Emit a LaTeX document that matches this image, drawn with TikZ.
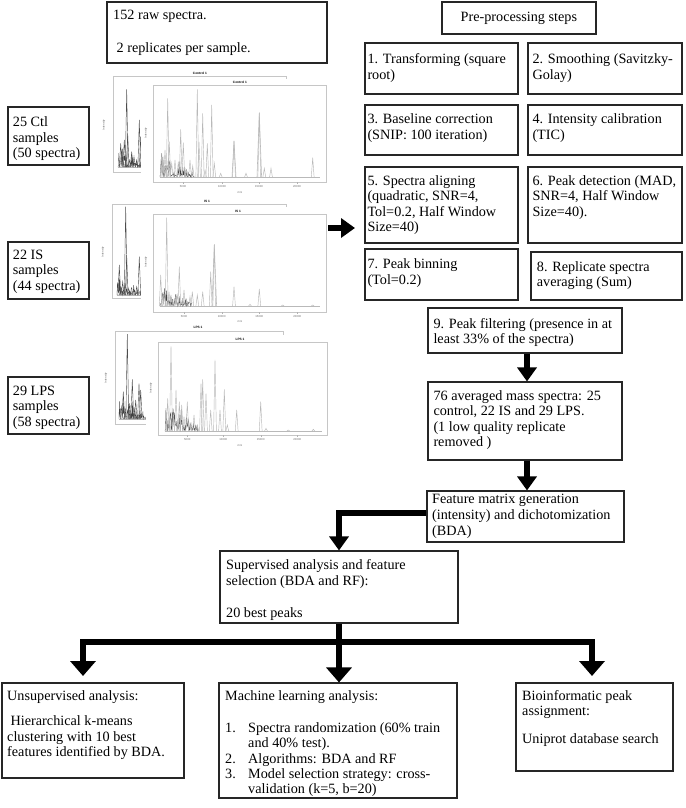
\documentclass[tikz,border=0pt]{standalone}
\usepackage{fontspec}
\setmainfont{Liberation Serif}
\newfontfamily\plotfont{Liberation Sans}
\usetikzlibrary{arrows.meta}
\newcommand\pk[3]{\foreach \px/\py in {#3}{\draw[#2] ({\px-1.4},#1) -- (\px,\py) -- ({\px+1.4},#1);}}
\newcommand\clut[4]{\draw[black!75,line width=0.3pt] (#1,#3) \foreach \i in {1,...,70}{ -- ({#1+(#2-#1)*\i/70},{#3-rnd*rnd*#4*(1.15-\i/80)})};}
\begin{document}
\begin{tikzpicture}[x=1pt,y=-1pt,
  box/.style={draw=black!85,line width=1.1pt,inner sep=0pt},
  tx/.style={anchor=north west,inner sep=0pt,yshift=10.85pt,align=left,font=\fontsize{14.2}{15.5}\selectfont,execute at begin node=\strut},
  flow/.style={line width=6.5pt,draw=black},
  tipA/.style={-{Triangle[width=19pt,length=14pt]}},
  tipB/.style={-{Triangle[width=25pt,length=15pt]}},
  frm/.style={draw=gray!45,line width=0.45pt},
  spk/.style={gray!55,line width=0.45pt},
  dk/.style={black!70,line width=0.4pt},
  ttl/.style={font=\plotfont\bfseries\fontsize{3.2}{3.5}\selectfont,inner sep=0pt},
  ax/.style={font=\plotfont\fontsize{2.8}{3}\selectfont,text=gray!80!black,inner sep=0pt}
]
\useasboundingbox[fill=white] (0,0) rectangle (685,808);
\pgfmathsetseed{7}

% ---------------- boxes ----------------
\node[box,minimum width=220pt,minimum height=61pt] (top) at (217,32.5) {};
\node[tx] (ttop) at (113,21) {152 raw spectra.\\[17pt]\hspace{3.5pt}2 replicates per sample.};

\node[box,minimum width=154pt,minimum height=32pt] (pre) at (519,18) {};
\node[tx] (tpre) at (460.5,21) {Pre-processing steps};

\node[box,minimum width=153pt,minimum height=51pt] (b1) at (441.5,68.5) {};
\node[tx] (tb1) at (367.3,64.5) {1. Transforming (square\\root)};
\node[box,minimum width=154pt,minimum height=51pt] (b2) at (605,68.5) {};
\node[tx] (tb2) at (532.3,64.5) {2. Smoothing (Savitzky-\\Golay)};

\node[box,minimum width=153pt,minimum height=50pt] (b3) at (441.5,130) {};
\node[tx] (tb3) at (367.3,124.5) {3. Baseline correction\\(SNIP: 100 iteration)};
\node[box,minimum width=154pt,minimum height=50pt] (b4) at (605,130) {};
\node[tx] (tb4) at (532.3,124.5) {4. Intensity calibration\\(TIC)};

\node[box,minimum width=153pt,minimum height=76pt] (b5) at (441.5,205) {};
\node[tx] (tb5) at (367.3,186) {5. Spectra aligning\\(quadratic, SNR=4,\\Tol=0.2, Half Window\\Size=40)};
\node[box,minimum width=154pt,minimum height=76pt] (b6) at (605,205) {};
\node[tx] (tb6) at (532.3,186) {6. Peak detection (MAD,\\SNR=4, Half Window\\Size=40).};

\node[box,minimum width=153pt,minimum height=51pt] (b7) at (441.5,274.5) {};
\node[tx] (tb7) at (367.3,269.5) {7. Peak binning\\(Tol=0.2)};
\node[box,minimum width=151pt,minimum height=48pt] (b8) at (606.5,276) {};
\node[tx] (tb8) at (536.7,272) {8. Replicate spectra\\averaging (Sum)};

\node[box,minimum width=194pt,minimum height=45pt] (b9) at (525,330.5) {};
\node[tx] (tb9) at (433.3,328.7) {9. Peak filtering (presence in at\\least 33\% of the spectra)};

\node[box,minimum width=194pt,minimum height=78pt] (b76) at (525,421) {};
\node[tx] (tb76) at (433.3,401) {76 averaged mass spectra: 25\\control, 22 IS and 29 LPS.\\(1 low quality replicate\\removed )};

\node[tx,font=\fontsize{14.2}{16}\selectfont] (tfeat) at (432,505) {Feature matrix generation\\(intensity) and dichotomization\\(BDA)};
\node[box,minimum width=197pt,minimum height=51pt] (feat) at (525.5,516.5) {};

\node[box,minimum width=238pt,minimum height=72pt] (sup) at (339,587) {};
\node[tx,font=\fontsize{14.2}{16}\selectfont] (tsup) at (226,570) {Supervised analysis and feature\\selection (BDA and RF):\\[16pt]20 best peaks};

\node[box,minimum width=182pt,minimum height=95pt] (uns) at (93,730.5) {};
\node[tx] (tuns) at (7,701) {Unsupervised analysis:\\[10pt]\hspace{3.5pt}Hierarchical k-means\\clustering with 10 best\\features identified by BDA.};

\node[box,minimum width=238pt,minimum height=115pt] (ml) at (338,740.5) {};
\node[tx,font=\fontsize{14.2}{15.25}\selectfont] (tml) at (225,701) {Machine learning analysis:\\[17.25pt]\makebox[23pt][l]{1.}Spectra randomization (60\% train\\\hspace{23pt}and 40\% test).\\\makebox[23pt][l]{2.}Algorithms: BDA and RF\\\makebox[23pt][l]{3.}Model selection strategy: cross-\\\hspace{23pt}validation (k=5, b=20)};

\node[box,minimum width=157pt,minimum height=88pt] (bio) at (594.5,727) {};
\node[tx] (tbio) at (522,701) {Bioinformatic peak\\assignment:\\[12pt]Uniprot database search};

\node[box,minimum width=81pt,minimum height=58pt] (ctl) at (48.5,136) {};
\node[tx,font=\fontsize{14.2}{15.2}\selectfont] (tctl) at (12.7,127.7) {25 Ctl\\samples\\(50 spectra)};
\node[box,minimum width=81pt,minimum height=57pt] (is) at (48.5,270.5) {};
\node[tx,font=\fontsize{14.2}{15.2}\selectfont] (tis) at (12.7,261) {22 IS\\samples\\(44 spectra)};
\node[box,minimum width=81pt,minimum height=57pt] (lps) at (48.5,405.5) {};
\node[tx,font=\fontsize{14.2}{15.2}\selectfont] (tlps) at (12.7,397) {29 LPS\\samples\\(58 spectra)};

% ---------------- spectra: Control ----------------
\draw[frm] (113,76) rectangle (286,172);
\node[ttl] (cbt) at (200,73) {Control 1};
\node[ax,rotate=90] (cby) at (104,125) {Intensity};
\draw[spk] (118,167) -- (146,167);
\clut{118}{146}{167}{20}
\pk{167}{dk}{120.7/143.3,122.3/156.7,124.3/140,126/155,126.7/89.3,127.7/133.3,129.3/160,131.7/151.7,134/156.7,136.7/160,139.3/120,140.7/136.7}
\fill[white] (141,79) rectangle (333,199);
\draw[frm] (153,85) rectangle (326,182);
\node[ttl] (cft) at (240,82) {Control 1};
\node[ax,rotate=90] (cfy) at (146,133) {Intensity};
\node[ax] (cfx) at (240,192) {m/z};
\foreach \tx/\tl in {183/5000,222/10000,259/15000,297/20000}{\draw[gray!60,line width=0.3pt] (\tx,182) -- (\tx,184); \node[ax] (cx\tl) at (\tx,187) {\tl};}
\draw[spk] (160,177) -- (320,177);
\clut{160}{194}{177}{28}
\pk{177}{spk}{161.7/153.3,163.3/160,165/150,166.3/166.7,167.7/98.3,169.3/141.7,171.7/163.3,175/160,178.3/161.7,180.7/129.3,183.3/142.7,186.7/170,190/160,192.7/166,197.3/89.3,199/141.7,202.7/113.3,205/170,207.3/143.3,211.7/105,214.3/163.3,220.7/173.3,234/141,246/173.3,259.3/112.7,264.3/168.3,271/168.3,312.7/157.7}
\draw[spk,line width=0.55pt] (257,177) -- (259.3,112.7) -- (261.6,177);
\draw[spk,line width=0.55pt] (232,177) -- (234,141) -- (236,177);

% ---------------- spectra: IS ----------------
\draw[frm] (112,204) rectangle (286,298);
\node[ttl] (ibt) at (207,201) {IS 1};
\node[ax,rotate=90] (iby) at (103,252) {Intensity};
\draw[spk] (117,295) -- (146,295);
\clut{117}{146}{295}{18}
\pk{295}{dk}{119.3/265,121/288.3,122.7/281.7,124.3/291.7,125.7/206.7,126.7/255,128.3/288.3,130.7/291.7,133.3/290,136.7/286.7,139.3/256.7}
\fill[white] (141,207) rectangle (333,326);
\draw[frm] (153,214) rectangle (326,312);
\node[ttl] (ift) at (238,211) {IS 1};
\node[ax,rotate=90] (ify) at (146,262) {Intensity};
\node[ax] (ifx) at (240,321) {m/z};
\foreach \tx/\tl in {184/5000,221.7/10000,259.3/15000,297.3/20000}{\draw[gray!60,line width=0.3pt] (\tx,312) -- (\tx,314); \node[ax] (ix\tl) at (\tx,317) {\tl};}
\draw[spk] (160,306) -- (320,306);
\clut{160}{192}{306}{22}
\pk{306}{spk}{160.7/275,162.7/295,164/291.7,166.7/217.7,168/295,169/291.7,171.7/298.3,176/296.7,177.3/295,179.3/266.7,184/290,190/296.7,192.3/291.7,197.3/295,202.7/291.7,210.7/271.7,214.3/244.3,234/286.7,250/304.3,259.3/289,282.7/305,312.7/305}
\draw[spk,line width=0.55pt] (212,306) -- (214.3,244.3) -- (216.6,306);

% ---------------- spectra: LPS ----------------
\draw[frm] (115,331) rectangle (283,424);
\node[ttl] (lbt) at (198,327) {LPS 1};
\node[ax,rotate=90] (lby) at (106,378) {Intensity};
\draw[spk] (119,419) -- (146,419);
\clut{119}{146}{419}{26}
\pk{419}{dk}{121.7/406.7,123.3/391.7,125/413.3,127.3/334,129.3/403.3,130.7/416.7,132.3/379.3,134/413.3,135.7/400,137.3/415,139/383.3,140.7/390}
\fill[white] (146,335) rectangle (333,449);
\draw[frm] (158,342) rectangle (327,435);
\node[ttl] (lft) at (240,339) {LPS 1};
\node[ax,rotate=90] (lfy) at (151,388) {Intensity};
\node[ax] (lfx) at (240,445) {m/z};
\foreach \tx/\tl in {187.3/5000,223.3/10000,260.7/15000,297.3/20000}{\draw[gray!60,line width=0.3pt] (\tx,435) -- (\tx,437); \node[ax] (lx\tl) at (\tx,440) {\tl};}
\draw[spk] (165,431) -- (322,431);
\clut{165}{198}{431}{36}
\pk{431}{spk}{167.7/398.3,169.3/416.7,171/346,173.3/416.7,176/390,177.7/420,179.3/401.7,181.7/405,184/416.7,187.3/401.7,190/423.3,194/415,197.3/425,201/383.3,202.7/379.3,206/393.3,210.7/410,215/360,220/410,224.3/389.3,227.3/425,236.7/410,260.7/401.7,266/428.3,288.3/430,313.3/429.3}

% ---------------- connectors ----------------
\coordinate (sa) at (328,228);
\coordinate (sb) at (355,228);
\draw[flow,tipA] (sa) -- (sb);
\draw[flow,tipA] ([xshift=2pt]b9.south) -- ([xshift=2pt]b76.north);
\draw[flow,tipA] ([xshift=2pt]b76.south) -- ([xshift=1.5pt]feat.north);
\draw[flow,tipA] ([yshift=3.5pt]feat.west) -| (sup.north);
\coordinate (j) at (339,642);
\coordinate (ua) at (83,676);
\coordinate (ba) at (592,676);
\draw[flow,tipB] (sup.south) -- (sup.south |- ml.north);
\draw[flow,tipB] (j) -| (ua);
\draw[flow,tipB] (j) -| (ba);
\end{tikzpicture}
\end{document}
